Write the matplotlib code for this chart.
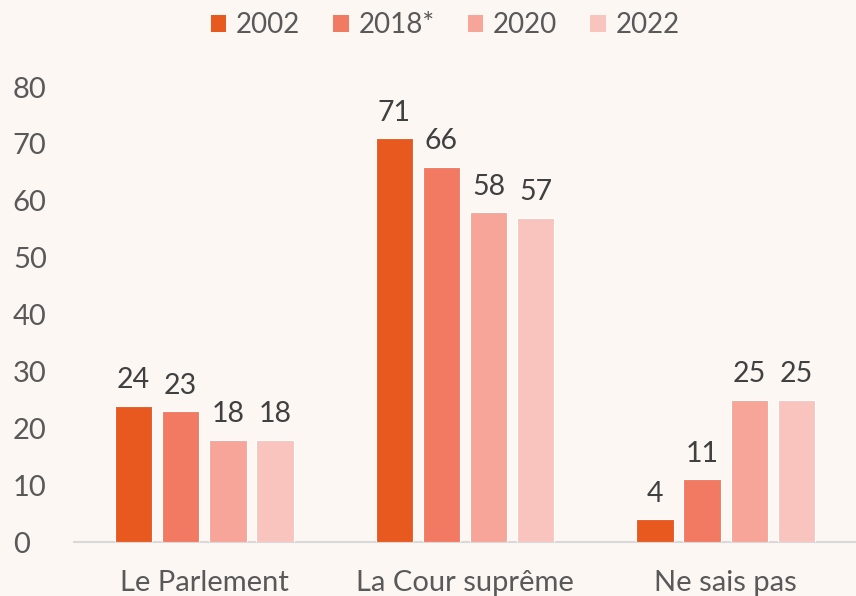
import numpy as np
import matplotlib.pyplot as plt
from matplotlib.patches import Patch

categories = ["Le Parlement", "La Cour suprême", "Ne sais pas"]
series = ["2002", "2018*", "2020", "2022"]
v2002 = [24, 71, 4]
v2018 = [23, 66, 11]
v2020 = [18, 58, 25]
v2022 = [18, 57, 25]
values = [v2002, v2018, v2020, v2022]
colors = ["#E8591F", "#F27A62", "#F6A598", "#F9C4BE"]

bg = "#FDF7F4"
plt.rcParams["font.family"] = ["Lato", "DejaVu Sans"]

fig = plt.figure(figsize=(8.56, 5.96), dpi=100, facecolor=bg)
ax = fig.add_axes([0.0864, 0.0906, 0.9136, 0.7634], facecolor=bg)

x = np.arange(len(categories))
step = 0.181
width = 0.143
for i, (vals, c) in enumerate(zip(values, colors)):
    pos = x + (i - 1.5) * step
    ax.bar(pos, vals, width, color=c, edgecolor="white", linewidth=0.8, zorder=3)
    for xp, v in zip(pos, vals):
        ax.annotate(f"{v}", xy=(xp, v), xytext=(0, 9), textcoords="offset points",
                    ha="center", va="bottom", fontsize=20.5, color="#404040")

ax.set_xlim(-0.5, 2.5)
ax.set_ylim(0, 80)
ax.set_yticks(range(0, 81, 10))
ax.set_xticks(x)
ax.set_xticklabels(categories)
ax.tick_params(axis="both", length=0, labelsize=21, labelcolor="#595959")
ax.tick_params(axis="x", pad=20)
ax.tick_params(axis="y", pad=44)
for lbl in ax.get_yticklabels():
    lbl.set_horizontalalignment("left")
for s in ["top", "right", "left"]:
    ax.spines[s].set_visible(False)
ax.spines["bottom"].set_color("#D9D9D9")
ax.spines["bottom"].set_linewidth(1.5)

handles = [Patch(facecolor=c, edgecolor="none") for c in colors]
fig.legend(handles, series, loc="center", bbox_to_anchor=(0.52, 0.958), ncol=4,
           frameon=False, fontsize=20, labelcolor="#595959",
           handlelength=0.55, handleheight=0.55, handletextpad=0.35, columnspacing=1.2)

fig.savefig("out.png", dpi=100, facecolor=bg)
